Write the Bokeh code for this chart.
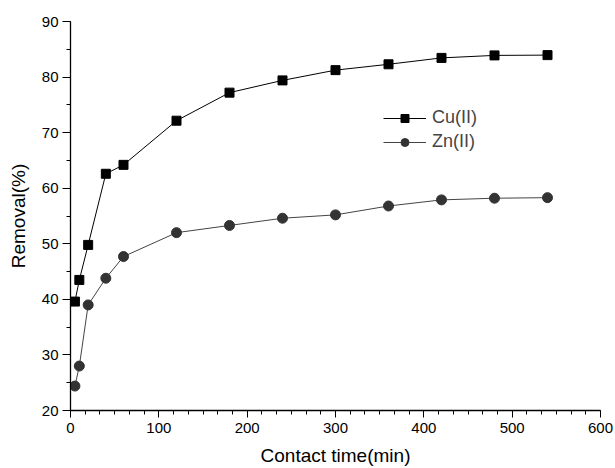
from bokeh.plotting import figure
from bokeh.models import Range1d, SingleIntervalTicker, Legend
from bokeh.embed import file_html
from bokeh.resources import INLINE

time_min = [5, 10, 20, 40, 60, 120, 180, 240, 300, 360, 420, 480, 540]
cu_removal = [39.6, 43.5, 49.8, 62.6, 64.2, 72.15, 77.2, 79.4, 81.25, 82.3, 83.45, 83.9, 83.95]
zn_removal = [24.4, 28.0, 39.0, 43.8, 47.7, 52.0, 53.3, 54.6, 55.2, 56.8, 57.9, 58.2, 58.3]

FONT = "Liberation Sans"

p = figure(width=615, height=468, output_backend="svg", toolbar_location=None,
           x_range=Range1d(0, 600), y_range=Range1d(20, 90),
           min_border_left=70, min_border_right=15, min_border_top=21, min_border_bottom=57)
p.outline_line_color = None
p.xgrid.visible = False
p.ygrid.visible = False
p.background_fill_color = "white"
p.border_fill_color = "white"

r1 = p.line(time_min, cu_removal, line_color="black", line_width=1)
s1 = p.scatter(time_min, cu_removal, marker="square", size=9, fill_color="black", line_color="black")
r2 = p.line(time_min, zn_removal, line_color="#444444", line_width=1)
s2 = p.scatter(time_min, zn_removal, marker="circle", size=10, fill_color="#333333", line_color="#333333")

p.xaxis.ticker = SingleIntervalTicker(interval=100, num_minor_ticks=6)
p.yaxis.ticker = SingleIntervalTicker(interval=10, num_minor_ticks=2)

for ax in (p.xaxis[0], p.yaxis[0]):
    ax.axis_line_width = 1.3
    ax.axis_line_color = "black"
    ax.major_tick_line_color = "black"
    ax.minor_tick_line_color = "black"
    ax.major_tick_in = 0
    ax.minor_tick_in = 0
    ax.major_label_text_font = FONT
    ax.major_label_text_font_size = "15px"
    ax.major_label_text_color = "black"
    ax.axis_label_text_font = FONT
    ax.axis_label_text_font_size = "19px"
    ax.axis_label_text_font_style = "normal"
    ax.axis_label_text_color = "black"

p.xaxis.major_tick_out = 7
p.xaxis.minor_tick_out = 4
p.yaxis.major_tick_out = 8
p.yaxis.minor_tick_out = 4
p.xaxis.major_label_standoff = 5
p.yaxis.major_label_standoff = 4
p.xaxis.axis_label = "Contact time(min)"
p.yaxis.axis_label = "Removal(%)"
p.xaxis.axis_label_standoff = 9
p.yaxis.axis_label_standoff = 10

legend = Legend(items=[("Cu(II)", [r1, s1]), ("Zn(II)", [r2, s2])],
                location=(313, 258))
legend.border_line_alpha = 0
legend.background_fill_alpha = 0
legend.padding = 0
legend.margin = 0
legend.spacing = 3
legend.glyph_width = 43
legend.glyph_height = 20
legend.label_standoff = 6
legend.label_text_font = FONT
legend.label_text_font_size = "18px"
legend.label_height = 20
p.add_layout(legend, "center")

open("out.html", "w").write(file_html(p, INLINE))
